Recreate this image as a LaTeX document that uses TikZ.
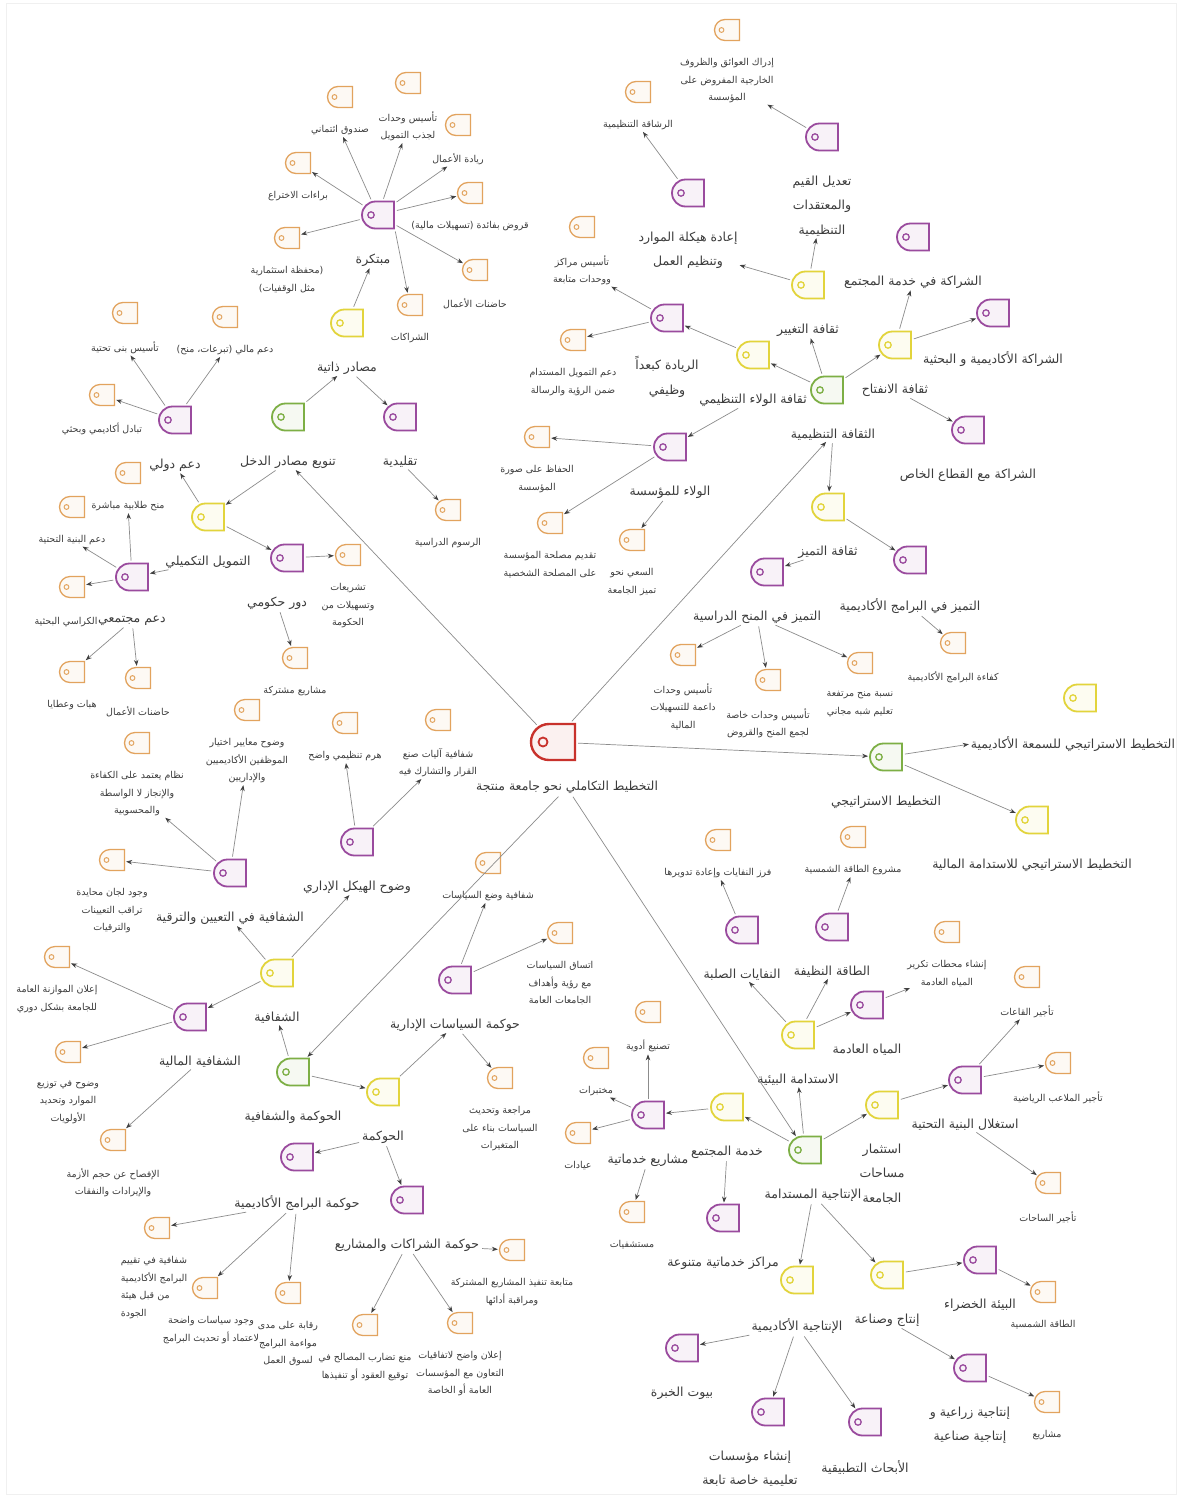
\documentclass[tikz,border=0pt]{standalone}
\usepackage{fontspec}
\newfontfamily\arabicfont[Script=Arabic]{DejaVu Sans}
\TeXXeTstate=1
\usetikzlibrary{arrows.meta, positioning, shapes.misc}
\definecolor{rootc}{HTML}{C8322C}
\definecolor{mainc}{HTML}{7DAF45}
\definecolor{subc}{HTML}{E2D43C}
\definecolor{topicc}{HTML}{9A4B9E}
\definecolor{leafc}{HTML}{E2A35E}
\definecolor{txtc}{HTML}{3C3C3C}
\definecolor{linec}{HTML}{8C8C8C}
\newcommand\arb[1]{\beginR #1\endR}
\tikzset{icon/.style={rounded rectangle,rounded rectangle right arc=none,inner sep=0pt,draw=#1,fill=#1!7},
  bigicon/.style={icon=#1,line width=1.8pt,minimum width=32pt,minimum height=27pt,
    path picture={\draw[#1,line width=1.3pt] ([xshift=9pt]path picture bounding box.west) circle (3.2pt);}},
  rootbox/.style={icon=rootc,line width=2.4pt,minimum width=44pt,minimum height=36pt,
    path picture={\draw[rootc,line width=1.8pt] ([xshift=12pt]path picture bounding box.west) circle (4.5pt);}},
  mainbox/.style={bigicon=mainc},
  subbox/.style={bigicon=subc},
  topicbox/.style={bigicon=topicc},
  leafbox/.style={icon=leafc,line width=1.3pt,minimum width=25pt,minimum height=21pt,
    path picture={\draw[leafc,line width=1pt] ([xshift=7pt]path picture bounding box.west) circle (2.4pt);}},
  lbl/.style={font=\arabicfont\fontsize{12.5}{24.5}\selectfont,text=txtc,align=center,inner sep=1pt},
  note/.style={font=\arabicfont\fontsize{9.5}{17.5}\selectfont,text=txtc,align=center,inner sep=1pt},
  link/.style={draw=linec,line width=0.7pt,-{Stealth[length=6pt,width=4.5pt,color=black!75]},shorten >=1pt,shorten <=2pt}}

\begin{document}
\begin{tikzpicture}[x=1pt,y=-1pt]
\useasboundingbox (0,0) rectangle (1181,1497);
\fill[white] (0,0) rectangle (1181,1497);
\draw[gray!12,line width=1pt] (6,3) rectangle (1176,1494);

\node[rootbox] (root) at (553,742) {};
\node[lbl, below=19pt of root, xshift=14pt] (root-t) {\arb{التخطيط التكاملي نحو جامعة منتجة}};

\node[mainbox] (income) at (288,417) {};
\node[lbl, below=23pt of income] (income-t) {\arb{تنويع مصادر الدخل}};
\node[subbox] (selfsrc) at (347,323) {};
\node[lbl, below=23pt of selfsrc] (selfsrc-t) {\arb{مصادر ذاتية}};
\node[topicbox] (innov) at (378,215) {};
\node[lbl, below=23pt of innov, xshift=-5pt] (innov-t) {\arb{مبتكرة}};
\node[leafbox] (trust) at (340,97) {};
\node[note, below=16pt of trust] (trust-t) {\arb{صندوق ائتماني}};
\node[leafbox] (fundunits) at (408,83) {};
\node[note, below=16pt of fundunits] (fundunits-t) {\arb{تأسيس وحدات}\\\arb{لجذب التمويل}};
\node[leafbox] (entre) at (458,125) {};
\node[note, below=16pt of entre] (entre-t) {\arb{ريادة الأعمال}};
\node[leafbox] (loans) at (470,193) {};
\node[note, below=16pt of loans] (loans-t) {\arb{قروض بفائدة (تسهيلات مالية)}};
\node[leafbox] (incub) at (475,270) {};
\node[note, below=16pt of incub] (incub-t) {\arb{حاضنات الأعمال}};
\node[leafbox] (partners) at (410,305) {};
\node[note, below=16pt of partners] (partners-t) {\arb{الشراكات}};
\node[leafbox] (portfolio) at (287,238) {};
\node[note, below=16pt of portfolio] (portfolio-t) {\arb{(محفظة استثمارية}\\\arb{مثل الوقفيات)}};
\node[leafbox] (patents) at (298,163) {};
\node[note, below=16pt of patents] (patents-t) {\arb{براءات الاختراع}};
\node[topicbox] (tradit) at (400,417) {};
\node[lbl, below=23pt of tradit] (tradit-t) {\arb{تقليدية}};
\node[leafbox] (fees) at (448,510) {};
\node[note, below=16pt of fees] (fees-t) {\arb{الرسوم الدراسية}};
\node[subbox] (supp) at (208,517) {};
\node[lbl, below=23pt of supp] (supp-t) {\arb{التمويل التكميلي}};
\node[topicbox] (intl) at (175,420) {};
\node[lbl, below=23pt of intl] (intl-t) {\arb{دعم دولي}};
\node[leafbox] (infra) at (125,313) {};
\node[note, below=16pt of infra] (infra-t) {\arb{تأسيس بنى تحتية}};
\node[leafbox] (finaid) at (225,317) {};
\node[note, below=16pt of finaid] (finaid-t) {\arb{دعم مالي (تبرعات، منح)}};
\node[leafbox] (exch) at (102,395) {};
\node[note, below=16pt of exch] (exch-t) {\arb{تبادل أكاديمي وبحثي}};
\node[topicbox] (commun) at (132,577) {};
\node[lbl, below=23pt of commun] (commun-t) {\arb{دعم مجتمعي}};
\node[leafbox] (grants) at (128,473) {};
\node[note, below=16pt of grants] (grants-t) {\arb{منح طلابية مباشرة}};
\node[leafbox] (infrasupp) at (72,507) {};
\node[note, below=16pt of infrasupp] (infrasupp-t) {\arb{دعم البنية التحتية}};
\node[leafbox] (chairs) at (72,587) {};
\node[note, below=18pt of chairs, xshift=-6pt] (chairs-t) {\arb{الكراسي البحثية}};
\node[leafbox] (gifts) at (72,672) {};
\node[note, below=16pt of gifts] (gifts-t) {\arb{هبات وعطايا}};
\node[leafbox] (incub2) at (138,678) {};
\node[note, below=16pt of incub2] (incub2-t) {\arb{حاضنات الأعمال}};
\node[topicbox] (gov) at (287,558) {};
\node[lbl, below=23pt of gov, xshift=-10pt] (gov-t) {\arb{دور حكومي}};
\node[leafbox] (laws) at (348,555) {};
\node[note, below=16pt of laws] (laws-t) {\arb{تشريعات}\\\arb{وتسهيلات من}\\\arb{الحكومة}};
\node[leafbox] (joint) at (295,658) {};
\node[note, below=16pt of joint] (joint-t) {\arb{مشاريع مشتركة}};

\node[mainbox] (culture) at (827,390) {};
\node[lbl, below=23pt of culture, xshift=6pt] (culture-t) {\arb{الثقافة التنظيمية}};
\node[subbox] (loyalcul) at (753,355) {};
\node[lbl, below=23pt of loyalcul] (loyalcul-t) {\arb{ثقافة الولاء التنظيمي}};
\node[topicbox] (lead) at (667,318) {};
\node[lbl, below=23pt of lead] (lead-t) {\arb{الريادة كبعداً}\\\arb{وظيفي}};
\node[leafbox] (centers) at (582,227) {};
\node[note, below=16pt of centers] (centers-t) {\arb{تأسيس مراكز}\\\arb{ووحدات متابعة}};
\node[leafbox] (susfund) at (573,340) {};
\node[note, below=16pt of susfund] (susfund-t) {\arb{دعم التمويل المستدام}\\\arb{ضمن الرؤية والرسالة}};
\node[topicbox] (loyal) at (670,447) {};
\node[lbl, below=23pt of loyal] (loyal-t) {\arb{الولاء للمؤسسة}};
\node[leafbox] (image) at (537,437) {};
\node[note, below=16pt of image] (image-t) {\arb{الحفاظ على صورة}\\\arb{المؤسسة}};
\node[leafbox] (interest) at (550,523) {};
\node[note, below=16pt of interest] (interest-t) {\arb{تقديم مصلحة المؤسسة}\\\arb{على المصلحة الشخصية}};
\node[leafbox] (strive) at (632,540) {};
\node[note, below=16pt of strive] (strive-t) {\arb{السعي نحو}\\\arb{تميز الجامعة}};
\node[subbox] (changecul) at (808,285) {};
\node[lbl, below=23pt of changecul] (changecul-t) {\arb{ثقافة التغيير}};
\node[topicbox] (restruct) at (688,193) {};
\node[lbl, below=23pt of restruct] (restruct-t) {\arb{إعادة هيكلة الموارد}\\\arb{وتنظيم العمل}};
\node[leafbox] (agility) at (638,92) {};
\node[note, below=16pt of agility] (agility-t) {\arb{الرشاقة التنظيمية}};
\node[topicbox] (values) at (822,137) {};
\node[lbl, below=23pt of values] (values-t) {\arb{تعديل القيم}\\\arb{والمعتقدات}\\\arb{التنظيمية}};
\node[leafbox] (obstacles) at (727,30) {};
\node[note, below=16pt of obstacles] (obstacles-t) {\arb{إدراك العوائق والظروف}\\\arb{الخارجية المفروض على}\\\arb{المؤسسة}};
\node[subbox] (opencul) at (895,345) {};
\node[lbl, below=23pt of opencul] (opencul-t) {\arb{ثقافة الانفتاح}};
\node[topicbox] (commpart) at (913,237) {};
\node[lbl, below=23pt of commpart] (commpart-t) {\arb{الشراكة في خدمة المجتمع}};
\node[topicbox] (acadpart) at (993,313) {};
\node[lbl, below=23pt of acadpart] (acadpart-t) {\arb{الشراكة الأكاديمية و البحثية}};
\node[topicbox] (privpart) at (968,430) {};
\node[lbl, below=23pt of privpart] (privpart-t) {\arb{الشراكة مع القطاع الخاص}};
\node[subbox] (excelcul) at (828,507) {};
\node[lbl, below=23pt of excelcul] (excelcul-t) {\arb{ثقافة التميز}};
\node[topicbox] (progexc) at (910,560) {};
\node[lbl, below=23pt of progexc] (progexc-t) {\arb{التميز في البرامج الأكاديمية}};
\node[leafbox] (progeff) at (953,643) {};
\node[note, below=16pt of progeff] (progeff-t) {\arb{كفاءة البرامج الأكاديمية}};
\node[topicbox] (scholexc) at (767,572) {};
\node[lbl, below=23pt of scholexc, xshift=-10pt] (scholexc-t) {\arb{التميز في المنح الدراسية}};
\node[leafbox] (finunits) at (683,655) {};
\node[note, below=16pt of finunits] (finunits-t) {\arb{تأسيس وحدات}\\\arb{داعمة للتسهيلات}\\\arb{المالية}};
\node[leafbox] (grantunits) at (768,680) {};
\node[note, below=16pt of grantunits] (grantunits-t) {\arb{تأسيس وحدات خاصة}\\\arb{لجمع المنح والقروض}};
\node[leafbox] (highgrants) at (860,663) {};
\node[note, below=16pt of highgrants] (highgrants-t) {\arb{نسبة منح مرتفعة}\\\arb{تعليم شبه مجاني}};

\node[mainbox] (strat) at (886,757) {};
\node[lbl, below=23pt of strat] (strat-t) {\arb{التخطيط الاستراتيجي}};
\node[subbox] (stratrep) at (1080,698) {};
\node[lbl, below=23pt of stratrep, xshift=-7pt] (stratrep-t) {\arb{التخطيط الاستراتيجي للسمعة الأكاديمية}};
\node[subbox] (stratfin) at (1032,820) {};
\node[lbl, below=23pt of stratfin] (stratfin-t) {\arb{التخطيط الاستراتيجي للاستدامة المالية}};

\node[mainbox] (prod) at (805,1150) {};
\node[lbl, below=23pt of prod, xshift=8pt] (prod-t) {\arb{الإنتاجية المستدامة}};
\node[subbox] (envsus) at (798,1035) {};
\node[lbl, below=23pt of envsus] (envsus-t) {\arb{الاستدامة البيئية}};
\node[topicbox] (waste) at (742,930) {};
\node[lbl, below=23pt of waste] (waste-t) {\arb{النفايات الصلبة}};
\node[leafbox] (recycle) at (718,840) {};
\node[note, below=16pt of recycle] (recycle-t) {\arb{فرز النفايات وإعادة تدويرها}};
\node[topicbox] (clean) at (832,927) {};
\node[lbl, below=23pt of clean] (clean-t) {\arb{الطاقة النظيفة}};
\node[leafbox] (solarproj) at (853,837) {};
\node[note, below=16pt of solarproj] (solarproj-t) {\arb{مشروع الطاقة الشمسية}};
\node[topicbox] (wastewater) at (867,1005) {};
\node[lbl, below=23pt of wastewater] (wastewater-t) {\arb{المياه العادمة}};
\node[leafbox] (plants) at (947,932) {};
\node[note, below=16pt of plants] (plants-t) {\arb{إنشاء محطات تكرير}\\\arb{المياه العادمة}};
\node[subbox] (service) at (727,1107) {};
\node[lbl, below=23pt of service] (service-t) {\arb{خدمة المجتمع}};
\node[topicbox] (servproj) at (648,1115) {};
\node[lbl, below=23pt of servproj] (servproj-t) {\arb{مشاريع خدماتية}};
\node[leafbox] (drugs) at (648,1012) {};
\node[note, below=16pt of drugs] (drugs-t) {\arb{تصنيع أدوية}};
\node[leafbox] (labs) at (596,1058) {};
\node[note, below=16pt of labs] (labs-t) {\arb{مختبرات}};
\node[leafbox] (clinics) at (578,1133) {};
\node[note, below=16pt of clinics] (clinics-t) {\arb{عيادات}};
\node[leafbox] (hospitals) at (632,1212) {};
\node[note, below=16pt of hospitals] (hospitals-t) {\arb{مستشفيات}};
\node[topicbox] (servcent) at (723,1218) {};
\node[lbl, below=23pt of servcent] (servcent-t) {\arb{مراكز خدماتية متنوعة}};
\node[subbox] (spaces) at (882,1105) {};
\node[lbl, below=23pt of spaces] (spaces-t) {\arb{استثمار}\\\arb{مساحات}\\\arb{الجامعة}};
\node[topicbox] (infrause) at (965,1080) {};
\node[lbl, below=23pt of infrause] (infrause-t) {\arb{استغلال البنية التحتية}};
\node[leafbox] (halls) at (1027,977) {};
\node[note, below=16pt of halls] (halls-t) {\arb{تأجير القاعات}};
\node[leafbox] (fields) at (1058,1063) {};
\node[note, below=16pt of fields] (fields-t) {\arb{تأجير الملاعب الرياضية}};
\node[leafbox] (yards) at (1048,1183) {};
\node[note, below=16pt of yards] (yards-t) {\arb{تأجير الساحات}};
\node[subbox] (acadprod) at (797,1280) {};
\node[lbl, below=23pt of acadprod] (acadprod-t) {\arb{الإنتاجية الأكاديمية}};
\node[topicbox] (expert) at (682,1348) {};
\node[lbl, below=23pt of expert] (expert-t) {\arb{بيوت الخبرة}};
\node[topicbox] (schools) at (768,1412) {};
\node[lbl, below=23pt of schools, xshift=-18pt] (schools-t) {\arb{إنشاء مؤسسات}\\\arb{تعليمية خاصة تابعة}};
\node[topicbox] (applied) at (865,1422) {};
\node[lbl, below=23pt of applied] (applied-t) {\arb{الأبحاث التطبيقية}};
\node[subbox] (industry) at (887,1275) {};
\node[lbl, below=23pt of industry] (industry-t) {\arb{إنتاج وصناعة}};
\node[topicbox] (green) at (980,1260) {};
\node[lbl, below=23pt of green] (green-t) {\arb{البيئة الخضراء}};
\node[leafbox] (solar) at (1043,1292) {};
\node[note, below=16pt of solar] (solar-t) {\arb{الطاقة الشمسية}};
\node[topicbox] (agri) at (970,1368) {};
\node[lbl, below=23pt of agri] (agri-t) {\arb{إنتاجية زراعية و}\\\arb{إنتاجية صناعية}};
\node[leafbox] (projects) at (1047,1402) {};
\node[note, below=16pt of projects] (projects-t) {\arb{مشاريع}};

\node[mainbox] (govern) at (293,1072) {};
\node[lbl, below=23pt of govern] (govern-t) {\arb{الحوكمة والشفافية}};
\node[subbox] (transp) at (277,973) {};
\node[lbl, below=23pt of transp] (transp-t) {\arb{الشفافية}};
\node[topicbox] (structure) at (357,842) {};
\node[lbl, below=23pt of structure] (structure-t) {\arb{وضوح الهيكل الإداري}};
\node[leafbox] (hierarchy) at (345,723) {};
\node[note, below=16pt of hierarchy] (hierarchy-t) {\arb{هرم تنظيمي واضح}};
\node[leafbox] (decision) at (438,720) {};
\node[note, below=16pt of decision] (decision-t) {\arb{شفافية آليات صنع}\\\arb{القرار والتشارك فيه}};
\node[topicbox] (hiring) at (230,873) {};
\node[lbl, below=23pt of hiring] (hiring-t) {\arb{الشفافية في التعيين والترقية}};
\node[leafbox] (criteria) at (247,710) {};
\node[note, below=16pt of criteria] (criteria-t) {\arb{وضوح معايير اختيار}\\\arb{الموظفين الأكاديميين}\\\arb{والإداريين}};
\node[leafbox] (merit) at (137,743) {};
\node[note, below=16pt of merit] (merit-t) {\arb{نظام يعتمد على الكفاءة}\\\arb{والإنجاز لا الواسطة}\\\arb{والمحسوبية}};
\node[leafbox] (committees) at (112,860) {};
\node[note, below=16pt of committees] (committees-t) {\arb{وجود لجان محايدة}\\\arb{تراقب التعيينات}\\\arb{والترقيات}};
\node[topicbox] (fintransp) at (190,1017) {};
\node[lbl, below=23pt of fintransp, xshift=10pt] (fintransp-t) {\arb{الشفافية المالية}};
\node[leafbox] (budget) at (57,957) {};
\node[note, below=16pt of budget] (budget-t) {\arb{إعلان الموازنة العامة}\\\arb{للجامعة بشكل دوري}};
\node[leafbox] (alloc) at (68,1052) {};
\node[note, below=16pt of alloc] (alloc-t) {\arb{وضوح في توزيع}\\\arb{الموارد وتحديد}\\\arb{الأولويات}};
\node[leafbox] (disclose) at (113,1140) {};
\node[note, below=16pt of disclose] (disclose-t) {\arb{الإفصاح عن حجم الأزمة}\\\arb{والإيرادات والنفقات}};
\node[subbox] (governance) at (383,1092) {};
\node[lbl, below=23pt of governance] (governance-t) {\arb{الحوكمة}};
\node[topicbox] (policy) at (455,980) {};
\node[lbl, below=23pt of policy] (policy-t) {\arb{حوكمة السياسات الإدارية}};
\node[leafbox] (polmaking) at (488,863) {};
\node[note, below=16pt of polmaking] (polmaking-t) {\arb{شفافية وضع السياسات}};
\node[leafbox] (consist) at (560,933) {};
\node[note, below=16pt of consist] (consist-t) {\arb{اتساق السياسات}\\\arb{مع رؤية وأهداف}\\\arb{الجامعات العامة}};
\node[leafbox] (review) at (500,1078) {};
\node[note, below=16pt of review] (review-t) {\arb{مراجعة وتحديث}\\\arb{السياسات بناء على}\\\arb{المتغيرات}};
\node[topicbox] (partgov) at (407,1200) {};
\node[lbl, below=23pt of partgov] (partgov-t) {\arb{حوكمة الشراكات والمشاريع}};
\node[leafbox] (monitor) at (512,1250) {};
\node[note, below=16pt of monitor] (monitor-t) {\arb{متابعة تنفيذ المشاريع المشتركة}\\\arb{ومراقبة أدائها}};
\node[leafbox] (contracts) at (460,1323) {};
\node[note, below=16pt of contracts] (contracts-t) {\arb{إعلان واضح لاتفاقيات}\\\arb{التعاون مع المؤسسات}\\\arb{العامة أو الخاصة}};
\node[leafbox] (conflict) at (365,1325) {};
\node[note, below=16pt of conflict] (conflict-t) {\arb{منع تضارب المصالح في}\\\arb{توقيع العقود أو تنفيذها}};
\node[topicbox] (proggov) at (297,1157) {};
\node[lbl, below=23pt of proggov] (proggov-t) {\arb{حوكمة البرامج الأكاديمية}};
\node[leafbox] (evaluate) at (157,1228) {};
\node[note, below=16pt of evaluate, align=left, xshift=-3pt] (evaluate-t) {\arb{شفافية في تقييم}\\\arb{البرامج الأكاديمية}\\\arb{من قبل هيئة}\\\arb{الجودة}};
\node[leafbox] (policies) at (205,1288) {};
\node[note, below=16pt of policies, xshift=6pt] (policies-t) {\arb{وجود سياسات واضحة}\\\arb{لاعتماد أو تحديث البرامج}};
\node[leafbox] (market) at (288,1293) {};
\node[note, below=16pt of market] (market-t) {\arb{رقابة على مدى}\\\arb{مواءمة البرامج}\\\arb{لسوق العمل}};

\draw[link] (root) -- (income-t);
\draw[link] (income) -- (selfsrc-t);
\draw[link] (selfsrc) -- (innov-t);
\draw[link] (selfsrc-t) -- (tradit);
\draw[link] (innov) -- (trust-t);
\draw[link] (innov) -- (fundunits-t);
\draw[link] (innov) -- (entre-t);
\draw[link] (innov) -- (loans);
\draw[link] (innov) -- (incub);
\draw[link] (innov.south east) -- (partners);
\draw[link] (innov) -- (portfolio);
\draw[link] (innov) -- (patents);
\draw[link] (tradit-t) -- (fees);
\draw[link] (income-t) -- (supp);
\draw[link] (supp) -- (intl-t);
\draw[link] (intl) -- (infra-t);
\draw[link] (intl) -- (finaid-t);
\draw[link] (intl) -- (exch);
\draw[link] (supp-t) -- (commun);
\draw[link] (commun) -- (grants-t);
\draw[link] (commun) -- (infrasupp-t);
\draw[link] (commun) -- (chairs);
\draw[link] (commun-t) -- (gifts);
\draw[link] (commun-t) -- (incub2);
\draw[link] (supp) -- (gov);
\draw[link] (gov) -- (laws);
\draw[link] (gov-t) -- (joint);

\draw[link] (root) -- (culture-t);
\draw[link] (culture) -- (loyalcul);
\draw[link] (loyalcul) -- (lead);
\draw[link] (lead) -- (centers-t);
\draw[link] (lead) -- (susfund);
\draw[link] (loyalcul-t) -- (loyal);
\draw[link] (loyal) -- (image);
\draw[link] (loyal) -- (interest);
\draw[link] (loyal-t) -- (strive);
\draw[link] (culture) -- (changecul-t);
\draw[link] (changecul) -- (restruct-t);
\draw[link] (restruct) -- (agility-t);
\draw[link] (changecul) -- (values-t);
\draw[link] (values) -- (obstacles-t);
\draw[link] (culture) -- (opencul);
\draw[link] (opencul) -- (commpart-t);
\draw[link] (opencul) -- (acadpart);
\draw[link] (opencul-t) -- (privpart);
\draw[link] (culture-t) -- (excelcul);
\draw[link] (excelcul) -- (progexc);
\draw[link] (progexc-t) -- (progeff);
\draw[link] (excelcul-t) -- (scholexc);
\draw[link] (scholexc-t) -- (finunits);
\draw[link] (scholexc-t) -- (grantunits);
\draw[link] (scholexc-t) -- (highgrants);

\draw[link] (root) -- (strat);
\draw[link] (strat) -- (stratrep-t.west);
\draw[link] (strat) -- (stratfin);

\draw[link] (root-t) -- (prod);
\draw[link] (prod) -- (envsus-t);
\draw[link] (envsus) -- (waste-t);
\draw[link] (waste) -- (recycle-t);
\draw[link] (envsus) -- (clean-t);
\draw[link] (clean) -- (solarproj-t);
\draw[link] (envsus) -- (wastewater);
\draw[link] (wastewater) -- (plants-t);
\draw[link] (prod) -- (service);
\draw[link] (service) -- (servproj);
\draw[link] (servproj) -- (drugs-t);
\draw[link] (servproj) -- (labs-t);
\draw[link] (servproj) -- (clinics);
\draw[link] (servproj-t) -- (hospitals);
\draw[link] (service-t) -- (servcent);
\draw[link] (prod) -- (spaces);
\draw[link] (spaces) -- (infrause);
\draw[link] (infrause) -- (halls-t);
\draw[link] (infrause) -- (fields);
\draw[link] (infrause-t) -- (yards);
\draw[link] (prod-t) -- (acadprod);
\draw[link] (acadprod-t) -- (expert);
\draw[link] (acadprod-t) -- (schools);
\draw[link] (acadprod-t) -- (applied);
\draw[link] (prod-t) -- (industry);
\draw[link] (industry) -- (green);
\draw[link] (green) -- (solar);
\draw[link] (industry-t) -- (agri);
\draw[link] (agri) -- (projects);

\draw[link] (root-t) -- (govern);
\draw[link] (govern) -- (transp-t);
\draw[link] (transp) -- (structure-t);
\draw[link] (structure) -- (hierarchy-t);
\draw[link] (structure) -- (decision-t);
\draw[link] (transp) -- (hiring-t);
\draw[link] (hiring) -- (criteria-t);
\draw[link] (hiring) -- (merit-t);
\draw[link] (hiring) -- (committees);
\draw[link] (transp) -- (fintransp);
\draw[link] (fintransp) -- (budget);
\draw[link] (fintransp) -- (alloc);
\draw[link] (fintransp-t) -- (disclose);
\draw[link] (govern) -- (governance);
\draw[link] (governance) -- (policy-t);
\draw[link] (policy) -- (polmaking-t);
\draw[link] (policy) -- (consist);
\draw[link] (policy-t) -- (review);
\draw[link] (governance-t) -- (partgov);
\draw[link] (partgov-t) -- (monitor);
\draw[link] (partgov-t) -- (contracts);
\draw[link] (partgov-t) -- (conflict);
\draw[link] (governance-t) -- (proggov);
\draw[link] (proggov-t) -- (evaluate);
\draw[link] (proggov-t) -- (policies);
\draw[link] (proggov-t) -- (market);
\end{tikzpicture}
\end{document}
